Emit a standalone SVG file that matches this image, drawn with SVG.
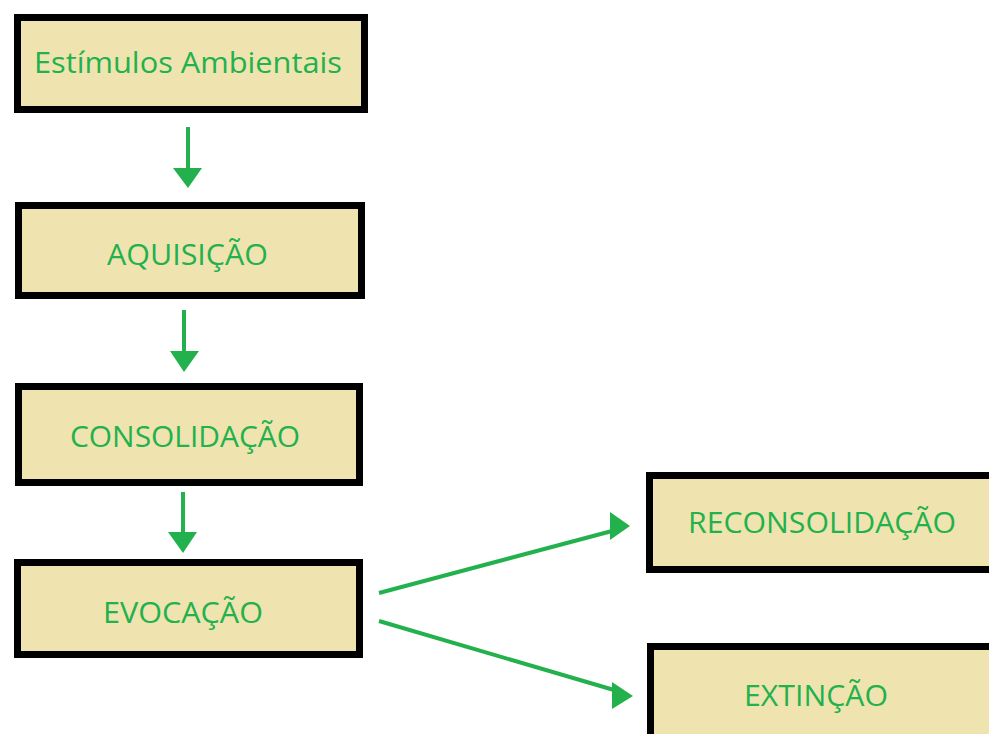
<svg xmlns="http://www.w3.org/2000/svg" width="989" height="734" viewBox="0 0 989 734">
<style>
.box{fill:#EFE4B0;stroke:#000;stroke-width:7}
.lbl{fill:#22B14C;font-family:"Open Sans","Liberation Sans",sans-serif;font-size:29px;text-anchor:middle}
.con{stroke:#22B14C;stroke-width:4;fill:none}
.head{fill:#22B14C}
</style>
<rect width="989" height="734" fill="#fff"/>
<g id="n1"><rect class="box" x="17.5" y="17.5" width="347" height="92"/><text class="lbl" x="188" y="73" textLength="308" lengthAdjust="spacingAndGlyphs">Estímulos Ambientais</text></g>
<g id="n2"><rect class="box" x="18.5" y="205.5" width="343" height="90"/><text class="lbl" x="187.5" y="265" textLength="161" lengthAdjust="spacingAndGlyphs">AQUISIÇÃO</text></g>
<g id="n3"><rect class="box" x="18.5" y="386.5" width="341" height="96"/><text class="lbl" x="185" y="447" textLength="230" lengthAdjust="spacingAndGlyphs">CONSOLIDAÇÃO</text></g>
<g id="n4"><rect class="box" x="17.5" y="562.5" width="342" height="92"/><text class="lbl" x="183" y="623" textLength="160" lengthAdjust="spacingAndGlyphs">EVOCAÇÃO</text></g>
<g id="n5"><rect class="box" x="649.5" y="475.5" width="350" height="94"/><text class="lbl" x="822" y="533" textLength="268" lengthAdjust="spacingAndGlyphs">RECONSOLIDAÇÃO</text></g>
<g id="n6"><rect class="box" x="650.5" y="646.5" width="350" height="100"/><text class="lbl" x="816" y="706" textLength="144" lengthAdjust="spacingAndGlyphs">EXTINÇÃO</text></g>
<g id="connectors">
<line class="con" x1="188" y1="127" x2="188" y2="170"/>
<polygon class="head" points="173,168 202,168 188,188"/>
<line class="con" x1="184" y1="310" x2="184" y2="353"/>
<polygon class="head" points="170,351 199,351 184,372"/>
<line class="con" x1="183" y1="492" x2="183" y2="534"/>
<polygon class="head" points="168,532 197,532 183,553"/>
<line class="con" x1="379" y1="593" x2="612" y2="531"/>
<polygon class="head" points="610,512 630,526 610,540"/>
<line class="con" x1="379" y1="621" x2="614" y2="690"/>
<polygon class="head" points="612,682 633,696 612,709"/>
</g>
</svg>
